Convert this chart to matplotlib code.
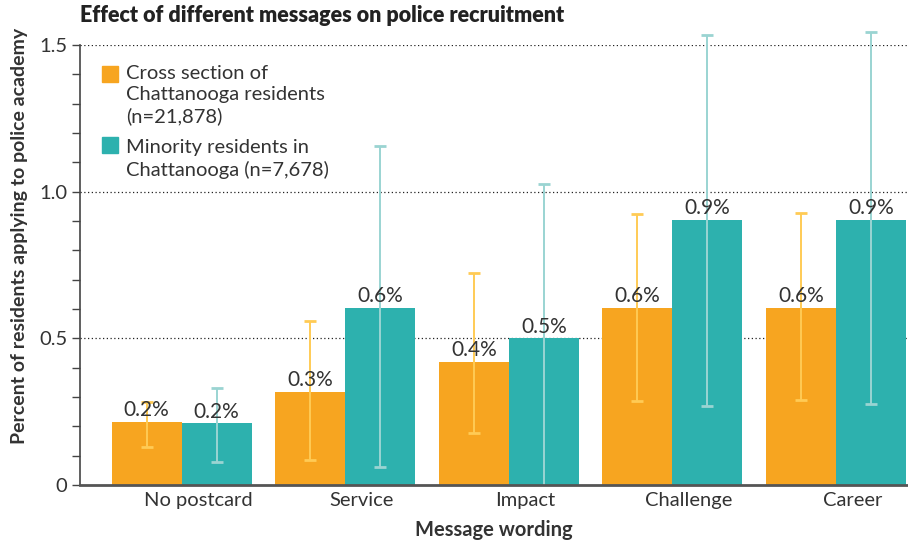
import numpy as np
import matplotlib
matplotlib.use('Agg')
from matplotlib import pyplot as plt
from matplotlib.patches import Rectangle
from matplotlib.ticker import MultipleLocator, FixedLocator

plt.rcParams['font.family'] = ['Lato', 'DejaVu Sans']

categories = ['No postcard', 'Service', 'Impact', 'Challenge', 'Career']
series_names = ['Cross section of\nChattanooga residents\n(n=21,878)',
                'Minority residents in\nChattanooga (n=7,678)']
cross_section = [0.215, 0.317, 0.42, 0.603, 0.603]
cross_low = [0.13, 0.085, 0.177, 0.286, 0.29]
cross_high = [0.283, 0.56, 0.723, 0.924, 0.927]
minority = [0.21, 0.603, 0.50, 0.903, 0.903]
minority_low = [0.078, 0.061, -0.05, 0.27, 0.276]
minority_high = [0.33, 1.156, 1.026, 1.534, 1.545]
labels_cross = ['0.2%', '0.3%', '0.4%', '0.6%', '0.6%']
labels_minority = ['0.2%', '0.6%', '0.5%', '0.9%', '0.9%']

orange = '#F7A520'
teal = '#2DB1AE'
orange_err = '#FFCB55'
teal_err = '#9AD4D2'
text_col = '#333333'

W, H = 908, 540
fig = plt.figure(figsize=(W / 100, H / 100), dpi=100)
ax = fig.add_axes([80 / W, 1 - 485 / H, 828 / W, 440 / H])

x = np.arange(len(categories))
w = 0.428

b1 = ax.bar(x - w / 2, cross_section, w, color=orange, zorder=2)
b2 = ax.bar(x + w / 2, minority, w, color=teal, zorder=2)

# error bars may poke above the axes top but get cut at the baseline
clip = Rectangle((0, 0), 1, 1.3, transform=ax.transAxes, visible=False)
ax.add_patch(clip)
for xs, vals, lo, hi, c in [(x - w / 2, cross_section, cross_low, cross_high, orange_err),
                            (x + w / 2, minority, minority_low, minority_high, teal_err)]:
    vals = np.array(vals)
    yerr = [vals - np.array(lo), np.array(hi) - vals]
    eb = ax.errorbar(xs, vals, yerr=yerr, fmt='none', ecolor=c, elinewidth=1.4,
                     capsize=4.5, capthick=2, zorder=3)
    for art in list(eb.lines[1]) + list(eb.lines[2]):
        art.set_clip_path(clip)

for bars, labs in [(b1, labels_cross), (b2, labels_minority)]:
    for bar, lab in zip(bars, labs):
        ax.text(bar.get_x() + bar.get_width() / 2, bar.get_height() + 0.006, lab,
                ha='center', va='bottom', fontsize=15, color=text_col, zorder=4)

ax.set_xlim(-0.621, 4.44)
ax.set_ylim(0, 1.5)
ax.set_xticks(x + 0.1)
ax.set_xticklabels(categories)
ax.tick_params(axis='x', length=0, labelsize=14.5, labelcolor=text_col, pad=5)
ax.yaxis.set_major_locator(FixedLocator([0, 0.5, 1.0, 1.5]))
ax.yaxis.set_minor_locator(MultipleLocator(0.1))
ax.set_yticklabels(['0', '0.5', '1.0', '1.5'])
ax.tick_params(axis='y', which='both', length=6, width=1, color='#444444',
               labelsize=14.5, labelcolor=text_col, pad=3)

for yv in [0.5, 1.0, 1.5]:
    ax.axhline(yv, color='#222222', lw=0.9, ls=(0, (1, 2)), zorder=1)

for s in ['top', 'right']:
    ax.spines[s].set_visible(False)
ax.spines['left'].set_color('#444444')
ax.spines['left'].set_linewidth(1.2)
ax.spines['bottom'].set_color('#555555')
ax.spines['bottom'].set_linewidth(2)
ax.spines['bottom'].set_zorder(5)

ax.set_xlabel('Message wording', fontsize=14.5, fontweight='bold', color=text_col, labelpad=8)
ax.set_ylabel('Percent of residents applying to police academy', fontsize=14,
              fontweight='bold', color=text_col)
ax.yaxis.set_label_coords(-0.063, 0.566)

fig.text(80 / W, 1 - 16 / H, 'Effect of different messages on police recruitment',
         fontsize=15.5, fontweight='heavy', color='#222222', va='center', ha='left')

# legend drawn by hand so the swatch sits beside the first line
for name, col, ytop, ytext in [(series_names[0], orange, 66, 65),
                               (series_names[1], teal, 137, 139)]:
    fig.patches.append(Rectangle((102 / W, 1 - (ytop + 16) / H), 16 / W, 16 / H,
                                 transform=fig.transFigure, color=col))
    fig.text(126 / W, 1 - ytext / H, name, fontsize=14.5, color=text_col,
             va='top', ha='left', linespacing=1.3)

fig.savefig('out.png', dpi=100)
